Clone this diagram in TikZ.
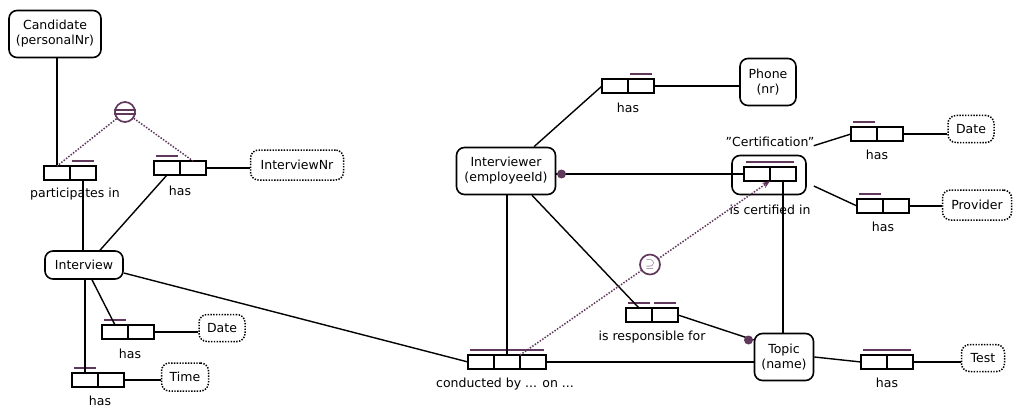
\documentclass[tikz,border=0pt]{standalone}
\usepackage{fontspec}
\setmainfont{DejaVu Sans}[Ligatures=ResetAll]
\usepackage{xcolor}
\definecolor{ormpurple}{RGB}{96,56,92}
\usetikzlibrary{arrows.meta, positioning, calc}

\begin{document}
\begin{tikzpicture}[
    x=1pt, y=-1pt,
    font=\fontsize{12.5}{15}\selectfont,
    entity/.style={draw=black, line width=1.6pt, rounded corners=8pt, fill=white, align=center, inner sep=2pt},
    valuetype/.style={entity, dash pattern=on 1.4pt off 1.4pt, line width=1.5pt},
    role/.style={draw=black, line width=1.4pt, fill=white, minimum width=26pt, minimum height=14pt, inner sep=0pt, outer sep=0pt},
    lbl/.style={inner sep=1pt},
    conn/.style={draw=black, line width=1.4pt},
    uq/.style={draw=ormpurple, line width=1.4pt},
    cons/.style={draw=ormpurple, line width=1.5pt, dash pattern=on 1.5pt off 1.5pt},
    mandot/.style={circle, fill=ormpurple, inner sep=0pt, minimum size=9pt},
    ringc/.style={circle, draw=ormpurple, solid, line width=1.7pt, fill=white, minimum size=20pt, inner sep=0pt, text=ormpurple}
]
\useasboundingbox (0,0) rectangle (1021,412);

% ==================== OBJECT TYPES ====================
\node[entity, minimum width=92pt, minimum height=47pt] (candidate) at (55,34) {Candidate\\(personalNr)};
\node[entity, minimum width=78pt, minimum height=28pt] (interview) at (84,265) {Interview};
\node[entity, minimum width=99pt, minimum height=47pt] (interviewer) at (506,171) {Interviewer\\(employeeId)};
\node[entity, minimum width=56pt, minimum height=47pt] (phone) at (768,82) {Phone\\(nr)};
\node[entity, minimum width=59pt, minimum height=47pt] (topic) at (784,357) {Topic\\(name)};

% ==================== VALUE TYPES ====================
\node[valuetype, minimum width=93pt, minimum height=30pt] (interviewnr) at (297,165) {InterviewNr};
\node[valuetype, minimum width=46pt, minimum height=27pt] (idate) at (222,328) {Date};
\node[valuetype, minimum width=47pt, minimum height=28pt] (itime) at (185,377) {Time};
\node[valuetype, minimum width=43pt, minimum height=27pt] (test) at (983,358) {Test};
\node[valuetype, minimum width=46pt, minimum height=27pt] (cdate) at (971,129) {Date};
\node[valuetype, minimum width=69pt, minimum height=30pt] (provider) at (977,205) {Provider};

% ==================== FACT TYPES ====================
\node[role] (part1) at (57,173) {};
\node[role, right=0pt of part1] (part2) {};
\draw[uq] ([xshift=2pt,yshift=5pt]part2.north west) -- ([xshift=-2pt,yshift=5pt]part2.north east);
\node[lbl] (partlbl) at (75,194) {participates in};

\node[role] (nr1) at (167,168) {};
\node[role, right=0pt of nr1] (nr2) {};
\draw[uq] ([xshift=2pt,yshift=5pt]nr1.north west) -- ([xshift=-2pt,yshift=5pt]nr1.north east);
\node[lbl] (nrlbl) at (180,191) {has};

\node[role] (dt1) at (115,332) {};
\node[role, right=0pt of dt1] (dt2) {};
\draw[uq] ([xshift=2pt,yshift=5pt]dt1.north west) -- ([xshift=-2pt,yshift=5pt]dt1.north east);
\node[lbl] (dtlbl) at (130,354) {has};

\node[role] (tm1) at (85,380) {};
\node[role, right=0pt of tm1] (tm2) {};
\draw[uq] ([xshift=2pt,yshift=5pt]tm1.north west) -- ([xshift=-2pt,yshift=5pt]tm1.north east);
\node[lbl] (tmlbl) at (100,401) {has};

\node[role] (cond1) at (481,362) {};
\node[role, right=0pt of cond1] (cond2) {};
\node[role, right=0pt of cond2] (cond3) {};
\draw[uq] ([xshift=2pt,yshift=5pt]cond1.north west) -- ([xshift=-2pt,yshift=5pt]cond3.north east);
\node[lbl] (condlbl) at (505,384) {conducted by ... on ...};

\node[role] (resp1) at (639,315) {};
\node[role, right=0pt of resp1] (resp2) {};
\draw[uq] ([xshift=2pt,yshift=5pt]resp1.north west) -- ([xshift=-2pt,yshift=5pt]resp1.north east);
\draw[uq] ([xshift=2pt,yshift=5pt]resp2.north west) -- ([xshift=-2pt,yshift=5pt]resp2.north east);
\node[lbl] (resplbl) at (652,337) {is responsible for};

\node[role] (ph1) at (615,86) {};
\node[role, right=0pt of ph1] (ph2) {};
\draw[uq] ([xshift=2pt,yshift=5pt]ph2.north west) -- ([xshift=-2pt,yshift=5pt]ph2.north east);
\node[lbl] (phlbl) at (628,108) {has};

% objectified "Certification"
\node[entity, minimum width=74pt, minimum height=39pt] (certframe) at (769,175) {};
\node[role] (cert1) at (757,174) {};
\node[role, right=0pt of cert1] (cert2) {};
\draw[uq] ([xshift=2pt,yshift=5pt]cert1.north west) -- ([xshift=-2pt,yshift=5pt]cert2.north east);
\node[lbl] (certname) at (770,142) {"Certification"};
\node[lbl] (certlbl) at (770,210) {is certified in};

\node[role] (cd1) at (864,134) {};
\node[role, right=0pt of cd1] (cd2) {};
\draw[uq] ([xshift=2pt,yshift=5pt]cd1.north west) -- ([xshift=-2pt,yshift=5pt]cd1.north east);
\node[lbl] (cdlbl) at (877,155) {has};

\node[role] (pv1) at (870,206) {};
\node[role, right=0pt of pv1] (pv2) {};
\draw[uq] ([xshift=2pt,yshift=5pt]pv1.north west) -- ([xshift=-2pt,yshift=5pt]pv1.north east);
\node[lbl] (pvlbl) at (883,227) {has};

\node[role] (ts1) at (874,362) {};
\node[role, right=0pt of ts1] (ts2) {};
\draw[uq] ([xshift=2pt,yshift=5pt]ts1.north west) -- ([xshift=-2pt,yshift=5pt]ts2.north east);
\node[lbl] (tslbl) at (887,383) {has};

% ==================== ROLE CONNECTORS ====================
\draw[conn] (part1.north |- candidate.south) -- (part1.north);
\draw[conn] (part2.south) -- (part2.south |- interview.north);
\draw[conn] (nr1.south) -- ([xshift=16pt]interview.north);
\draw[conn] (nr2.east) -- (nr2.east -| interviewnr.west);
\draw[conn] ([xshift=8pt]interview.south) -- (dt1.north);
\draw[conn] (dt2.east) -- (dt2.east -| idate.west);
\draw[conn] (tm1.north |- interview.south) -- (tm1.north);
\draw[conn] (tm2.east) -- (tm2.east -| itime.west);
\draw[conn] ([yshift=-8pt]interview.east) -- (cond1.west);
\draw[conn] (cond2.north |- interviewer.south) -- (cond2.north);
\draw[conn] (cond3.east) -- (cond3.east -| topic.west);
\draw[conn] ([xshift=26pt]interviewer.south) -- (resp1.north);
\draw[conn] (resp2.east) -- ([yshift=17pt]topic.west) node[mandot, anchor=east] (dottopic) {};
\draw[conn] ([xshift=28pt]interviewer.north) -- (ph1.west);
\draw[conn] (ph2.east) -- (ph2.east -| phone.west);
\draw[conn] (cert1.west) -- (cert1.west -| interviewer.east) node[mandot, anchor=west] (dotinterviewer) {};
\draw[conn] (cert2.south) -- (cert2.south |- topic.north);
\draw[conn] ([shift={(7pt,9pt)}]certframe.north east) -- (cd1.west);
\draw[conn] (cd2.east) -- (cd2.east -| cdate.west);
\draw[conn] ([shift={(7pt,-11pt)}]certframe.east) -- (pv1.west);
\draw[conn] (pv2.east) -- (pv2.east -| provider.west);
\draw[conn] (topic.east) -- (ts1.west);
\draw[conn] (ts2.east) -- (ts2.east -| test.west);

% ==================== CONSTRAINTS ====================
\node[ringc] (equality) at (125,112) {};
\draw[ormpurple, line width=1.3pt] (equality.170) -- (equality.10);
\draw[ormpurple, line width=1.3pt] (equality.190) -- (equality.350);
\draw[cons] (equality) -- (part1.north);
\draw[cons] (equality) -- (nr2.north);

\draw[cons, -{Stealth[length=8pt]}] (cond2.north east) -- node[ringc, pos=.52] (subset) {\large$\supseteq$} (cert1.south east);

\end{tikzpicture}
\end{document}
